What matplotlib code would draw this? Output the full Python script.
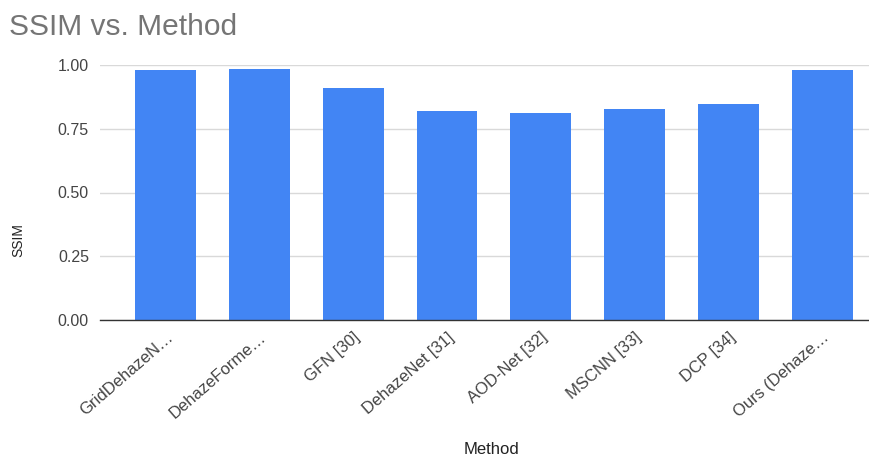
import matplotlib.pyplot as plt

# data
methods = ['GridDehazeN…', 'DehazeForme…', 'GFN [30]', 'DehazeNet [31]',
           'AOD-Net [32]', 'MSCNN [33]', 'DCP [34]', 'Ours (Dehaze…']
ssim = [0.979, 0.984, 0.911, 0.818, 0.813, 0.828, 0.849, 0.979]
yticks = [0.0, 0.25, 0.5, 0.75, 1.0]

plt.rcParams['font.family'] = ['Liberation Sans', 'DejaVu Sans']

fig = plt.figure(figsize=(8.7, 4.63), dpi=100)
ax = fig.add_axes([100 / 870, 1 - 320 / 463, 770 / 870, 255 / 463])

x = list(range(len(methods)))
ax.bar(x, ssim, width=0.65, color='#4285F4', zorder=3)

ax.set_xlim(-0.70, 7.51)
ax.set_ylim(0, 1.0)
ax.set_yticks(yticks)
ax.set_yticklabels([f'{v:.2f}' for v in yticks], fontsize=11.5, color='#444444')
ax.set_xticks(x)
ax.set_xticklabels(methods, rotation=41, ha='right', rotation_mode='anchor',
                   fontsize=12, color='#444444')

ax.grid(axis='y', color='#d9d9d9', linewidth=1, zorder=0)
ax.tick_params(axis='y', length=0, pad=8)
ax.tick_params(axis='x', length=0, pad=7)
for side in ['top', 'right', 'left']:
    ax.spines[side].set_visible(False)
ax.spines['bottom'].set_color('#333333')
ax.spines['bottom'].set_linewidth(1)
ax.spines['bottom'].set_zorder(4)

fig.text(9 / 870, 1 - 27 / 463, 'SSIM vs. Method', fontsize=21.5,
         color='#757575', ha='left', va='center')
fig.text(18 / 870, 1 - 240 / 463, 'SSIM', fontsize=10, color='#222222',
         rotation=90, ha='center', va='center')
fig.text(492 / 870, 1 - 450 / 463, 'Method', fontsize=12, color='#222222',
         ha='center', va='center')

fig.savefig('out.png', dpi=100)
